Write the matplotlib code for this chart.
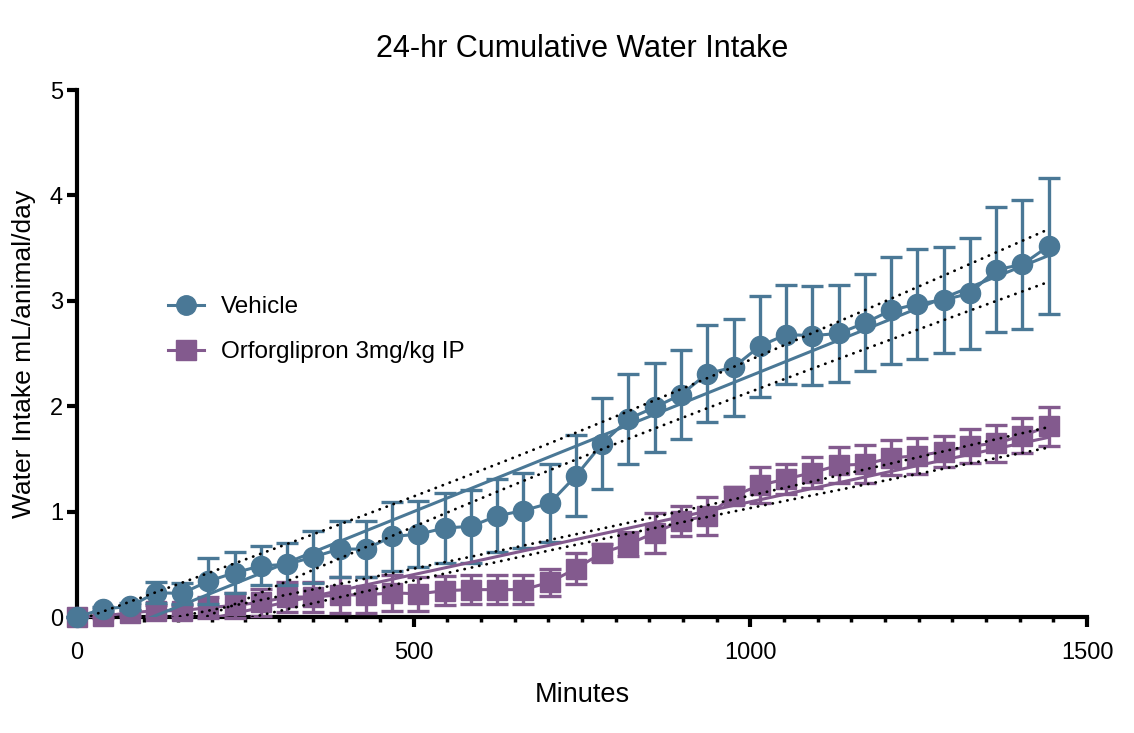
import numpy as np
import matplotlib
matplotlib.use("Agg")
import matplotlib.pyplot as plt
from matplotlib.lines import Line2D
from matplotlib.ticker import MultipleLocator

plt.rcParams['font.family'] = ['Liberation Sans', 'DejaVu Sans']

# time points (minutes)
minutes = [0, 39, 78, 117, 156, 195, 234, 273, 312, 351, 390, 429, 468, 507,
           546, 585, 624, 663, 702, 741, 780, 819, 858, 897, 936, 975, 1014,
           1053, 1092, 1131, 1170, 1209, 1248, 1287, 1326, 1365, 1404, 1443]

# vehicle: mean and SEM
vehicle_mean = [0.0, 0.077, 0.10, 0.23, 0.225, 0.34, 0.42, 0.485, 0.50, 0.57,
                0.645, 0.645, 0.765, 0.785, 0.845, 0.86, 0.96, 1.01, 1.08, 1.34,
                1.645, 1.88, 1.99, 2.11, 2.31, 2.37, 2.57, 2.68, 2.67, 2.69,
                2.79, 2.91, 2.97, 3.01, 3.07, 3.295, 3.345, 3.52]
vehicle_sem = [0.0, 0.02, 0.03, 0.10, 0.10, 0.22, 0.195, 0.185, 0.20, 0.25,
               0.265, 0.265, 0.33, 0.315, 0.335, 0.345, 0.345, 0.355, 0.37, 0.385,
               0.435, 0.43, 0.42, 0.42, 0.46, 0.46, 0.48, 0.47, 0.47, 0.46,
               0.46, 0.505, 0.52, 0.505, 0.525, 0.595, 0.61, 0.645]

# orforglipron: mean and SEM
orf_mean = [0.0, 0.01, 0.04, 0.06, 0.06, 0.09, 0.11, 0.14, 0.19, 0.19,
            0.21, 0.21, 0.23, 0.22, 0.25, 0.26, 0.26, 0.26, 0.33, 0.46,
            0.61, 0.69, 0.80, 0.91, 0.96, 1.15, 1.25, 1.31, 1.37, 1.44,
            1.45, 1.51, 1.53, 1.57, 1.62, 1.65, 1.72, 1.81]
orf_sem = [0.0, 0.02, 0.03, 0.05, 0.05, 0.10, 0.12, 0.13, 0.14, 0.14,
           0.17, 0.17, 0.17, 0.16, 0.14, 0.135, 0.135, 0.135, 0.13, 0.15,
           0.08, 0.115, 0.19, 0.14, 0.18, 0.08, 0.17, 0.145, 0.15, 0.17,
           0.18, 0.165, 0.17, 0.15, 0.16, 0.175, 0.165, 0.185]

labels = ['Vehicle', 'Orforglipron 3mg/kg IP']
colors = ['#4A7896', '#835A8E']
markers = ['o', 's']


def fit_with_band(x, y, sem, n_animals=8):
    """Linear fit on the means plus an approximate 95% confidence band."""
    x = np.asarray(x, float)
    y = np.asarray(y, float)
    sem = np.asarray(sem, float)
    slope, icpt = np.polyfit(x, y, 1)
    n = len(x)
    ssr = np.sum((y - (slope * x + icpt)) ** 2)
    s_eff = np.sqrt(np.mean(sem ** 2) + ssr / (n - 2) / n_animals)
    sxx = np.sum((x - x.mean()) ** 2)
    xs = np.linspace(x.min(), x.max(), 200)
    ys = slope * xs + icpt
    half = 1.98 * s_eff * np.sqrt(1.0 / n + (xs - x.mean()) ** 2 / sxx)
    return xs, ys, ys - half, ys + half


fig = plt.figure(figsize=(11.34, 7.33), dpi=100)
ax = fig.add_axes([0.0679, 0.1582, 0.8907, 0.7190])

series = [(vehicle_mean, vehicle_sem), (orf_mean, orf_sem)]
zs = [4, 3]
for (mean, sem), c, m, z in zip(series, colors, markers, zs):
    eb = ax.errorbar(minutes, mean, yerr=sem, fmt='-' + m, color=c, ms=14.5,
                     lw=2.2, elinewidth=2.4, capsize=8, capthick=2.4, zorder=z)
    for art in eb.get_children():
        art.set_clip_on(False)
    xs, ys, lo, hi = fit_with_band(minutes, mean, sem)
    ax.plot(xs, ys, color=c, lw=2.2, zorder=5)
    ax.plot(xs, lo, color='black', lw=2.0, linestyle=(0, (0.1, 2.6)),
            dash_capstyle='round', zorder=5)
    ax.plot(xs, hi, color='black', lw=2.0, linestyle=(0, (0.1, 2.6)),
            dash_capstyle='round', zorder=5)

ax.set_xlim(0, 1500)
ax.set_ylim(0, 5)
ax.xaxis.set_major_locator(MultipleLocator(500))
ax.xaxis.set_minor_locator(MultipleLocator(50))
ax.yaxis.set_major_locator(MultipleLocator(1))

for side in ['top', 'right']:
    ax.spines[side].set_visible(False)
for side in ['left', 'bottom']:
    ax.spines[side].set_linewidth(3)
    ax.spines[side].set_capstyle('projecting')

ax.tick_params(axis='both', which='major', length=7, width=3, labelsize=17)
ax.tick_params(axis='x', which='major', pad=11)
ax.tick_params(axis='y', which='major', pad=3)
ax.tick_params(axis='x', which='minor', length=3.5, width=2.5)

ax.set_title('24-hr Cumulative Water Intake', fontsize=22, pad=24)
ax.set_xlabel('Minutes', fontsize=19.5, labelpad=13)
ax.set_ylabel('Water Intake mL/animal/day', fontsize=19, labelpad=10)

handles = [Line2D([], [], color=c, marker=m, ms=14, lw=2.2)
           for c, m in zip(colors, markers)]
ax.legend(handles, labels, loc='upper left', bbox_to_anchor=(0.068, 0.65),
          frameon=False, fontsize=17.5, handlelength=1.5, handletextpad=0.7,
          labelspacing=0.95)

fig.savefig('out.png', dpi=100)
